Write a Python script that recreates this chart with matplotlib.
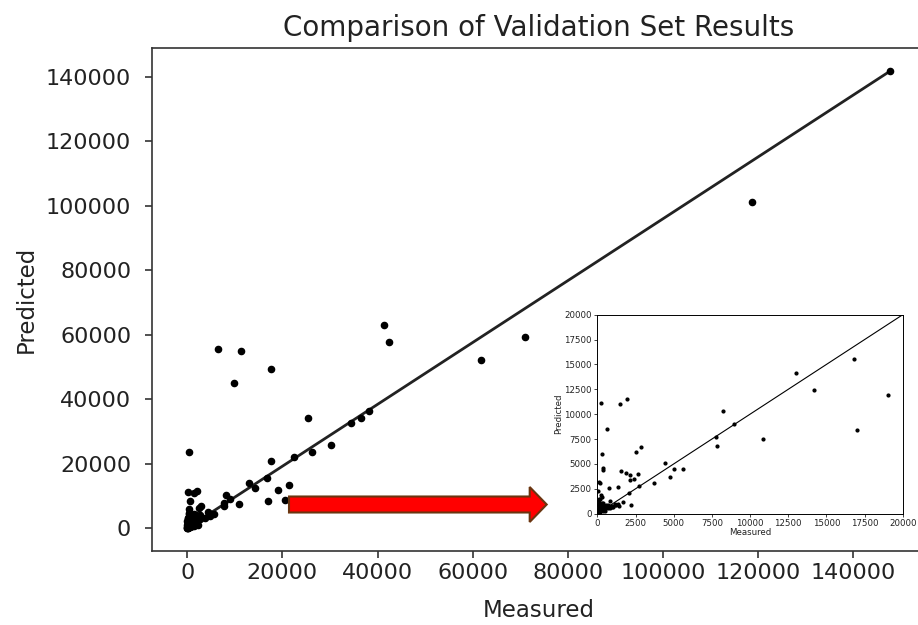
import numpy as np
import matplotlib
matplotlib.use('Agg')
import matplotlib.pyplot as plt
from matplotlib.patches import FancyArrow

# ─── Datos (medido vs. predicho) ──────────────────────────────────────────────
# puntos grandes, leídos del gráfico principal
measured_big = [147800, 118800, 41300, 42350, 61700, 70900, 6440, 11320, 17690,
                9860, 290, 25450, 30190, 26290, 22520, 34380, 36480, 38240,
                21470, 20550, 17610]
predicted_big = [141900, 101200, 63000, 57900, 52200, 59400, 55700, 55100, 49300,
                 45150, 23600, 34300, 25700, 23600, 22050, 32700, 34300, 36300,
                 13480, 8820, 20700]

measured_mid = [262, 1506, 1965, 633, 327, 393, 393, 1528, 1877, 2117, 2641, 2117,
                2423, 2554, 2838, 1353, 742, 109, 196, 22, 2052, 2750, 1659, 2183,
                4431, 4759, 5043, 5632, 3733, 7771, 7837, 8208, 8972, 10828, 13032,
                14167, 16787, 16983, 19014]
predicted_mid = [11090, 10990, 11560, 8510, 6000, 4620, 4360, 4250, 4050, 3850, 3950,
                 3420, 3480, 6200, 6730, 2680, 2550, 3220, 3080, 2310, 2110, 2780,
                 1210, 840, 5060, 3690, 4460, 4520, 3080, 7710, 6830, 10320, 8980,
                 7470, 14100, 12390, 15580, 8410, 11960]

# nube cerca del origen
measured_low = [30, 60, 90, 120, 150, 180, 210, 240, 270, 300, 330, 360, 400, 430,
                470, 520, 560, 600, 650, 700, 760, 820, 900, 980, 1050, 1150, 1250,
                1350, 80, 140, 240, 306, 175, 393, 568, 720, 960, 1179, 1397, 830,
                40, 15, 100, 200, 350, 500]
predicted_low = [150, 400, 250, 600, 350, 800, 500, 950, 700, 450, 1100, 850, 600, 750,
                 500, 680, 900, 640, 800, 560, 700, 620, 750, 820, 700, 900, 850,
                 1000, 1200, 1500, 1880, 1640, 1440, 1040, 640, 870, 700, 970, 800, 1240,
                 900, 60, 80, 150, 250, 300]

x = np.array(measured_big + measured_mid + measured_low, dtype=float)
y = np.array(predicted_big + predicted_mid + predicted_low, dtype=float)

# línea de referencia: del origen al punto máximo
line_x = [0, x.max()]
line_y = [0, y.max()]

# ─── Figura ───────────────────────────────────────────────────────────────────
fig = plt.figure(figsize=(9.18, 6.25), dpi=100)
txt = '#222222'

ax = fig.add_axes([0.1656, 0.1184, 0.8427, 0.8048])
ax.scatter(x, y, s=20, color='k', zorder=3)
ax.plot(line_x, line_y, color='#222222', lw=2)
ax.set_title('Comparison of Validation Set Results', fontsize=20, color=txt, pad=8.5)
ax.set_xlabel('Measured', fontsize=16.5, color=txt, labelpad=12)
ax.set_ylabel('Predicted', fontsize=16.5, color=txt, labelpad=6)
ax.set_xticks(np.arange(0, 140001, 20000))
ax.set_yticks(np.arange(0, 140001, 20000))
ax.tick_params(labelsize=16, colors=txt, length=5, width=1.1)
ax.tick_params(axis='y', pad=10)
for s in ax.spines.values():
    s.set_linewidth(1.2)
    s.set_color('#333333')

# — Recuadro ampliado 0-20000 —
axi = fig.add_axes([0.6507, 0.1781, 0.3327, 0.3184])
axi.scatter(x, y, s=4, color='k', zorder=3)
axi.plot([0, 20000], [0, 20000], color='k', lw=0.8)
axi.set_xlim(0, 20000)
axi.set_ylim(0, 20000)
axi.set_xticks(np.arange(0, 20001, 2500))
axi.set_yticks(np.arange(0, 20001, 2500))
axi.tick_params(labelsize=6.2, colors=txt, length=2.5, width=0.6, pad=1.5)
axi.set_xlabel('Measured', fontsize=6.2, color=txt, labelpad=0)
axi.set_ylabel('Predicted', fontsize=6.2, color=txt, labelpad=1)
for s in axi.spines.values():
    s.set_linewidth(0.7)

# — Flecha roja —
arrow = FancyArrow(2.89, 1.205, 2.577, 0, width=0.16, head_width=0.35,
                   head_length=0.17, length_includes_head=True,
                   facecolor='#ff0000', edgecolor='#6b3510', lw=1.5,
                   transform=fig.dpi_scale_trans)
fig.patches.append(arrow)

fig.savefig('out.png', dpi=100)
